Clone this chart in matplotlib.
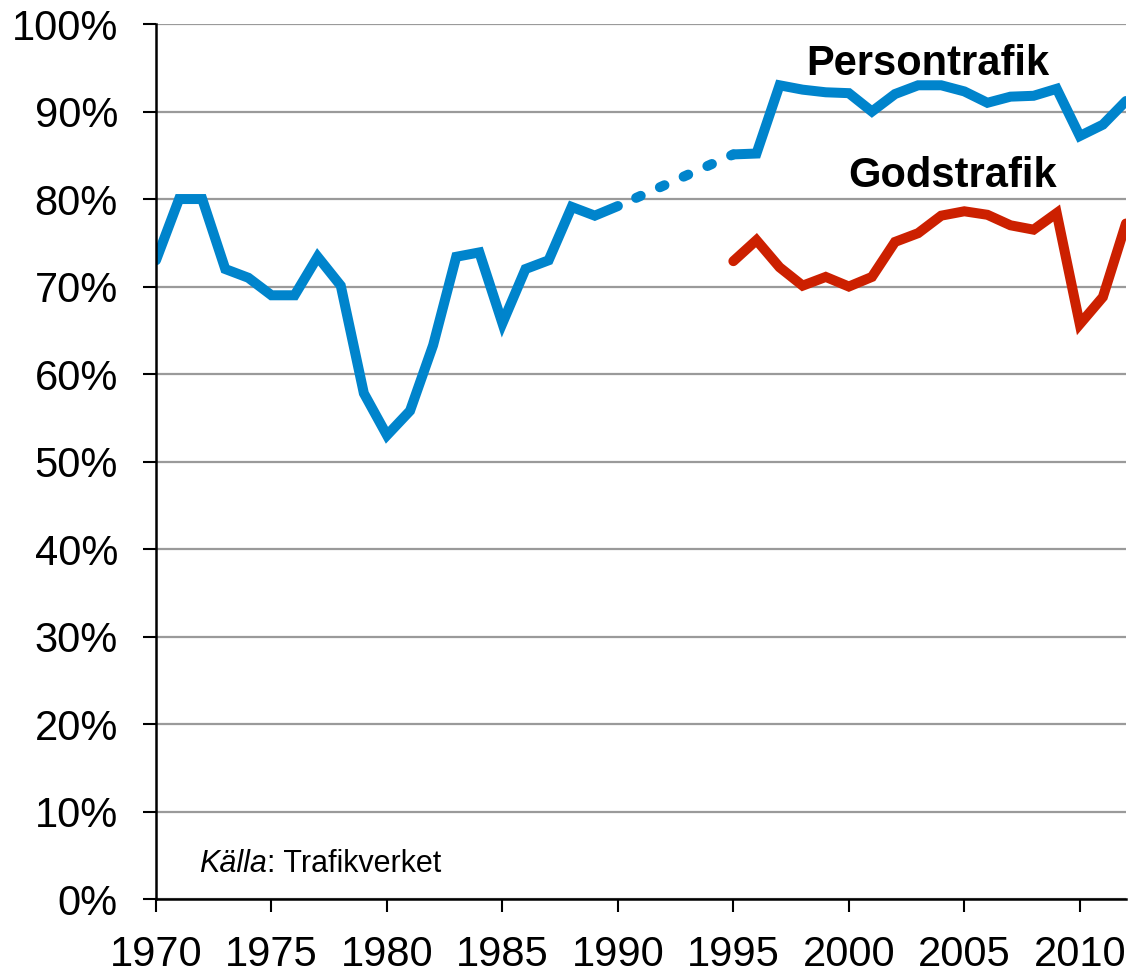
import numpy as np
import matplotlib
matplotlib.use("Agg")
import matplotlib.pyplot as plt

plt.rcParams['font.family'] = ['Liberation Sans', 'DejaVu Sans']

# Persontrafik (passenger traffic) punctuality, 1970-1990 and 1995-2012
person_years_a = [1970, 1971, 1972, 1973, 1974, 1975, 1976, 1977, 1978, 1979, 1980,
                  1981, 1982, 1983, 1984, 1985, 1986, 1987, 1988, 1989, 1990]
person_vals_a = [73.0, 80.0, 80.0, 72.0, 71.0, 69.0, 69.0, 73.4, 70.1, 57.8, 53.0,
                 55.8, 63.3, 73.4, 73.9, 65.8, 72.0, 73.0, 79.1, 78.1, 79.2]
person_years_b = [1995, 1996, 1997, 1998, 1999, 2000, 2001, 2002, 2003, 2004, 2005,
                  2006, 2007, 2008, 2009, 2010, 2011, 2012]
person_vals_b = [85.1, 85.2, 93.0, 92.5, 92.2, 92.1, 90.0, 92.0, 93.0, 93.0, 92.3,
                 91.0, 91.7, 91.8, 92.6, 87.2, 88.5, 91.2]

# Godstrafik (freight traffic)
gods_years = [1995, 1996, 1997, 1998, 1999, 2000, 2001, 2002, 2003, 2004, 2005,
              2006, 2007, 2008, 2009, 2010, 2011, 2012]
gods_vals = [72.9, 75.3, 72.2, 70.1, 71.1, 70.0, 71.1, 75.1, 76.1, 78.1, 78.6,
             78.2, 77.0, 76.5, 78.4, 65.7, 68.8, 77.2]

y_ticks = [0, 10, 20, 30, 40, 50, 60, 70, 80, 90, 100]
x_ticks = [1970, 1975, 1980, 1985, 1990, 1995, 2000, 2005, 2010]

blue = '#0084CC'
red = '#CC2000'

fig = plt.figure(figsize=(11.28, 9.73), dpi=100)
ax = fig.add_axes([0.1383, 0.0760, 0.8599, 0.8993])

for t in y_ticks:
    ax.axhline(t, color='#9a9a9a', lw=1.6, zorder=1)

lw = 7.2
ax.plot(person_years_a, person_vals_a, color=blue, lw=lw, solid_joinstyle='miter',
        solid_capstyle='round', zorder=3)
ax.plot(person_years_b, person_vals_b, color=blue, lw=lw, solid_joinstyle='miter',
        solid_capstyle='round', zorder=3)
# dotted bridge between 1990 and 1995
ax.plot([person_years_a[-1], person_years_b[0]], [person_vals_a[-1], person_vals_b[0]],
        color=blue, lw=lw, linestyle=(0.6, (0.5, 2.1)), dash_capstyle='round', zorder=3)
ax.plot(gods_years, gods_vals, color=red, lw=lw, solid_joinstyle='miter',
        solid_capstyle='round', zorder=3)

ax.set_xlim(1970, 2012)
ax.set_ylim(0, 100)
ax.set_yticks(y_ticks)
ax.set_yticklabels([f'{t}%' for t in y_ticks])
ax.set_xticks(x_ticks)
ax.set_xticklabels([str(x) for x in x_ticks])
ax.tick_params(axis='both', direction='out', length=9.4, width=1.5, labelsize=30,
               color='black', labelcolor='black')
ax.tick_params(axis='x', pad=16.5)
ax.tick_params(axis='y', pad=18)

for s in ['top', 'right']:
    ax.spines[s].set_visible(False)
for s in ['left', 'bottom']:
    ax.spines[s].set_linewidth(1.8)
    ax.spines[s].set_color('black')
    ax.spines[s].set_zorder(4)

ax.text(2003.4, 94.2, 'Persontrafik', fontsize=30, fontweight='bold', ha='center',
        va='baseline', color='black')
ax.text(2004.5, 81.4, 'Godstrafik', fontsize=30, fontweight='bold', ha='center',
        va='baseline', color='black')
t1 = ax.text(1971.86, 3.1, 'Källa', fontsize=22, fontstyle='italic', ha='left',
             va='baseline', color='black')
fig.canvas.draw()
bb = t1.get_window_extent()
inv = ax.transData.inverted()
x_end = inv.transform((bb.x1, bb.y0))[0]
ax.text(x_end, 3.1, ': Trafikverket', fontsize=22, ha='left', va='baseline', color='black')

fig.savefig('out.png', dpi=100)
